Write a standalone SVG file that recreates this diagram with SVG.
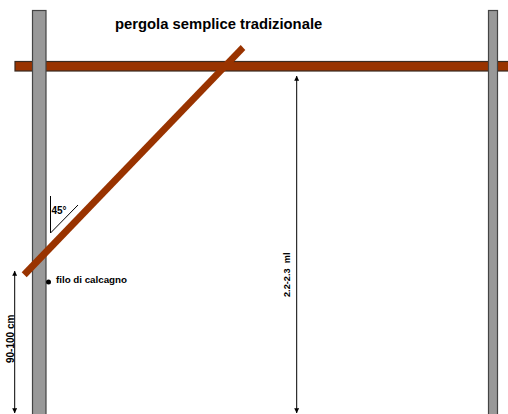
<svg xmlns="http://www.w3.org/2000/svg" width="508" height="414" viewBox="0 0 508 414">
<style>
text{font-family:"Liberation Sans",Arial,sans-serif;font-weight:bold;fill:#000}
.post{fill:#999;stroke:#444;stroke-width:1.2}
.dim{stroke:#000;stroke-width:1;fill:none}
.ah{fill:#000}
</style>
<defs>
<marker id="a" markerWidth="5" markerHeight="5" refX="4.8" refY="2.5" orient="auto-start-reverse" markerUnits="userSpaceOnUse"><path class="ah" d="M0 0L5 2.5L0 5Z"/></marker>
</defs>
<rect width="508" height="414" fill="#fff"/>
<g id="beam"><rect x="15" y="61.5" width="494" height="9.5" fill="#993300" stroke="#3a2a20" stroke-width="1.2"/></g>
<g id="post-left"><rect class="post" x="32.5" y="10.5" width="13.5" height="410"/></g>
<g id="post-right"><rect class="post" x="488.5" y="10.5" width="9" height="410"/></g>
<g id="brace"><polygon points="240.7,45 245.3,50 26.7,277.3 21.7,272.3" fill="#993300"/></g>
<g id="connectors">
<path class="dim" d="M14.7 271V413" marker-start="url(#a)" marker-end="url(#a)"/>
<path class="dim" d="M296.7 76V413" marker-start="url(#a)" marker-end="url(#a)"/>
<path class="dim" d="M50.5 196V233L78 205"/>
</g>
<g id="dot"><circle cx="48.5" cy="282" r="2.5" fill="#000"/></g>
<g id="labels">
<text x="115" y="28.5" font-size="14.8">pergola semplice tradizionale</text>
<text x="51.5" y="214" font-size="10">45°</text>
<text x="56" y="283" font-size="9.8" textLength="71">filo di calcagno</text>
<text transform="translate(13.5,363) rotate(-90)" font-size="10">90-100 cm</text>
<text transform="translate(290,297) rotate(-90)" font-size="9.2" xml:space="preserve">2.2-2.3  ml</text>
</g>
</svg>
